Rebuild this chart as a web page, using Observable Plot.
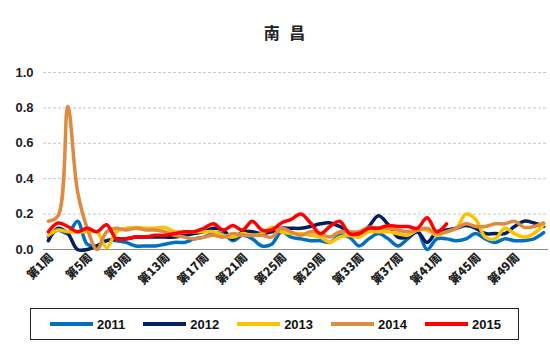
<!DOCTYPE html>
<html>
<head>
<meta charset="utf-8">
<script src="https://cdn.jsdelivr.net/npm/d3@7"></script>
<script src="https://cdn.jsdelivr.net/npm/@observablehq/plot@0.6"></script>
<style>
  body { margin: 0; background: #fff; }
  #wrap { position: relative; width: 550px; height: 354px; font-family: "Liberation Sans", "Noto Sans CJK SC", sans-serif; }
  #title { position: absolute; left: 0; width: 572px; top: 20px; text-align: center; font: bold 16px "Noto Sans CJK SC", sans-serif; color: #222; letter-spacing: 3px; }
  #chart { position: absolute; left: 0; top: 0; }
  #legend { position: absolute; left: 30px; top: 308px; width: 489px; height: 32px; border: 1px solid #222; box-sizing: border-box; display: flex; align-items: center; padding-left: 19px; }
  .item { display: flex; align-items: center; margin-right: 18px; font: bold 13px "Liberation Sans", sans-serif; color: #111; }
  .sw { width: 43px; height: 4px; margin-right: 4px; }
  .xax text { font-family: "Noto Sans CJK SC", sans-serif; font-weight: 900; }
</style>
</head>
<body>
<div id="wrap">
  <div id="chart"></div>
  <div id="title">南 昌</div>
  <div id="legend"></div>
</div>
<script>
const years = ["2011", "2012", "2013", "2014", "2015"];
const colors = ["#0070C0", "#002060", "#FFC000", "#DE8A3F", "#FF0000"];
const yTicks = [0, 0.2, 0.4, 0.6, 0.8, 1.0];
const xTicks = [1, 5, 9, 13, 17, 21, 25, 29, 33, 37, 41, 45, 49];

const s2011 = [0.07,0.11,0.09,0.16,0.03,0.02,0.05,0.05,0.04,0.02,0.02,0.02,0.03,0.04,0.04,0.06,0.07,0.09,0.09,0.05,0.08,0.06,0.02,0.03,0.10,0.07,0.06,0.05,0.05,0.04,0.08,0.07,0.02,0.06,0.09,0.06,0.02,0.06,0.10,0.00,0.06,0.06,0.05,0.06,0.09,0.06,0.04,0.06,0.05,0.05,0.06,0.095];
const s2012 = [0.05,0.12,0.09,0.00,0.00,0.02,0.05,0.06,0.06,0.07,0.07,0.07,0.07,0.07,0.08,0.09,0.10,0.12,0.11,0.06,0.10,0.10,0.09,0.10,0.12,0.12,0.12,0.13,0.145,0.15,0.13,0.10,0.08,0.13,0.19,0.14,0.07,0.07,0.10,0.04,0.10,0.11,0.12,0.135,0.12,0.09,0.09,0.09,0.13,0.16,0.15,0.13];
const s2013 = [0.08,0.11,0.10,0.10,0.10,0.10,0.01,0.10,0.12,0.125,0.12,0.12,0.125,0.10,0.10,0.10,0.10,0.10,0.08,0.07,0.09,0.08,0.09,0.125,0.10,0.09,0.09,0.08,0.07,0.04,0.07,0.08,0.07,0.10,0.10,0.10,0.09,0.08,0.11,0.11,0.08,0.10,0.12,0.20,0.17,0.07,0.06,0.12,0.09,0.07,0.09,0.14];
const s2014 = [0.16,0.19,0.81,0.33,0.12,0.00,0.10,0.12,0.11,0.12,0.11,0.11,0.10,0.08,0.07,0.06,0.07,0.08,0.07,0.09,0.08,0.08,0.08,0.07,0.12,0.10,0.08,0.10,0.09,0.07,0.10,0.10,0.10,0.125,0.12,0.12,0.11,0.10,0.11,0.12,0.09,0.10,0.12,0.145,0.13,0.13,0.145,0.145,0.16,0.125,0.13,0.15];
const s2015 = [0.10,0.15,0.13,0.10,0.12,0.10,0.14,0.06,0.06,0.07,0.07,0.08,0.08,0.09,0.10,0.10,0.12,0.145,0.11,0.135,0.11,0.16,0.11,0.11,0.15,0.17,0.20,0.15,0.09,0.13,0.16,0.09,0.09,0.12,0.12,0.135,0.13,0.13,0.12,0.18,0.10,0.145];

const seriesList = [s2011, s2012, s2013, s2014, s2015];
const rows = [];
seriesList.forEach((s, i) => s.forEach((v, j) => rows.push({year: years[i], week: j + 1, value: v})));

const chart = Plot.plot({
  width: 550,
  height: 310,
  marginTop: 72,
  marginBottom: 61,
  marginLeft: 43,
  marginRight: 2,
  style: { fontFamily: '"Liberation Sans", "Noto Sans CJK SC", sans-serif', fontSize: "13px", fontWeight: "bold", color: "#222", background: "transparent" },
  x: { domain: [0.5, 52.5], axis: null },
  y: { domain: [0, 1], axis: null },
  color: { domain: years, range: colors },
  marks: [
    Plot.ruleY(yTicks.filter(d => d > 0), { stroke: "#C8C8C8", strokeDasharray: "3,2", strokeWidth: 1 }),
    Plot.ruleY([0], { stroke: "#8C8C8C", strokeWidth: 1 }),
    Plot.axisY(yTicks, { tickSize: 0, tickPadding: 10, tickFormat: d3.format(".1f"), label: null, fontSize: 13, fontWeight: "bold" }),
    Plot.axisX(xTicks, { tickSize: 0, tickPadding: 6, tickRotate: -45, tickFormat: d => "第" + d + "周", label: null, fontSize: 12, className: "xax", dx: 3 }),
    Plot.line(rows, { x: "week", y: "value", z: "year", stroke: "year", strokeWidth: 3.5, curve: "catmull-rom" })
  ]
});
document.getElementById("chart").appendChild(chart);

const legend = document.getElementById("legend");
years.forEach((y, i) => {
  const it = document.createElement("div");
  it.className = "item";
  it.innerHTML = `<div class="sw" style="background:${colors[i]}"></div><span>${y}</span>`;
  legend.appendChild(it);
});
</script>
</body>
</html>
